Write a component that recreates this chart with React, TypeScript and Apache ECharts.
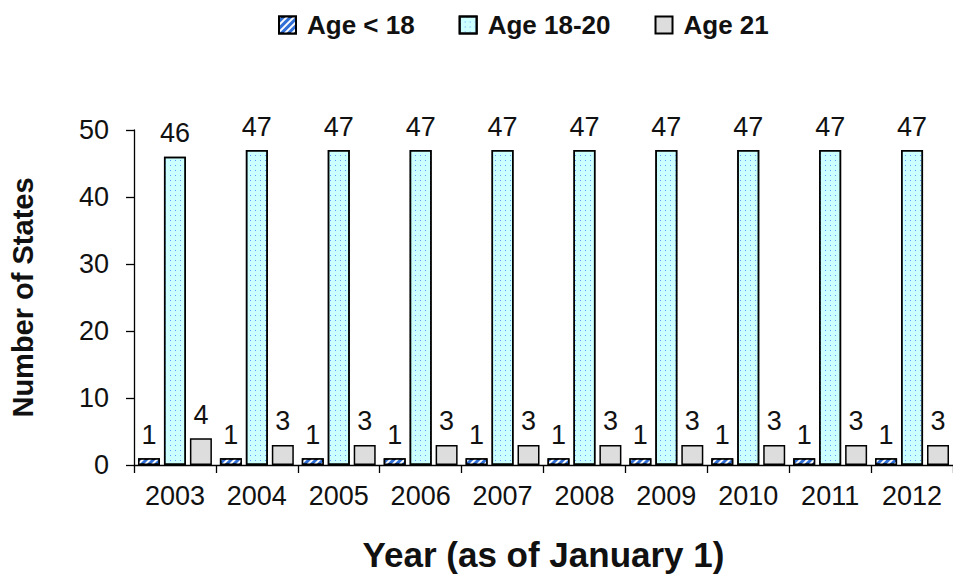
import React, { useEffect, useRef } from "react";
import * as echarts from "echarts";

const years = ["2003", "2004", "2005", "2006", "2007", "2008", "2009", "2010", "2011", "2012"];
const under18 = [1, 1, 1, 1, 1, 1, 1, 1, 1, 1];
const age1820 = [46, 47, 47, 47, 47, 47, 47, 47, 47, 47];
const age21 = [4, 3, 3, 3, 3, 3, 3, 3, 3, 3];
const seriesNames = ["Age < 18", "Age 18-20", "Age 21"];

const FONT = "Arial, 'Liberation Sans', sans-serif";

export default function App() {
  const ref = useRef<HTMLDivElement>(null);
  useEffect(() => {
    if (!ref.current) return;
    const chart = echarts.init(ref.current, null, { renderer: "svg" });
    const label = {
      show: true,
      position: "top" as const,
      distance: 10,
      color: "#111",
      fontSize: 27,
      fontFamily: FONT,
    };
    const border = { borderColor: "#000", borderWidth: 1.5 };
    chart.setOption({
      animation: false,
      backgroundColor: "#fff",
      textStyle: { fontFamily: FONT },
      legend: {
        top: 7,
        left: 273,
        icon: "rect",
        itemWidth: 17,
        itemHeight: 17,
        itemGap: 44,
        data: seriesNames,
        textStyle: { fontSize: 26, fontWeight: "bold", color: "#111", fontFamily: FONT, padding: [0, 0, 0, 6] },
      },
      grid: { left: 134, right: -9, top: 130, bottom: 113, containLabel: false },
      xAxis: {
        type: "category",
        data: years,
        name: "Year (as of January 1)",
        nameLocation: "middle",
        nameGap: 72,
        nameTextStyle: { fontSize: 35, fontWeight: "bold", color: "#111", fontFamily: FONT },
        axisLine: { lineStyle: { color: "#000", width: 1.3 } },
        axisTick: { show: true, length: 8, lineStyle: { color: "#000", width: 1.3 } },
        axisLabel: { fontSize: 27, color: "#111", margin: 17, fontFamily: FONT },
      },
      yAxis: {
        type: "value",
        min: 0,
        max: 50,
        interval: 10,
        name: "Number of States",
        nameLocation: "middle",
        nameGap: 97,
        nameTextStyle: { fontSize: 29, fontWeight: "bold", color: "#111", fontFamily: FONT },
        axisLine: { show: true, lineStyle: { color: "#000", width: 1.3 } },
        axisTick: { show: true, length: 8, lineStyle: { color: "#000", width: 1.3 } },
        axisLabel: { fontSize: 27, color: "#111", margin: 25, fontFamily: FONT },
        splitLine: { show: false },
      },
      series: [
        {
          name: seriesNames[0],
          type: "bar",
          data: under18,
          barWidth: 22,
          barGap: "18%",
          label,
          itemStyle: {
            color: "#2f6fd6",
            ...border,
            decal: {
              symbol: "rect",
              color: "#ffffff",
              dashArrayX: [1, 0],
              dashArrayY: [2, 3],
              rotation: -Math.PI / 4,
              symbolSize: 1,
            },
          },
        },
        {
          name: seriesNames[1],
          type: "bar",
          data: age1820,
          barWidth: 22,
          barGap: "18%",
          label,
          itemStyle: {
            color: "#ccffff",
            ...border,
            decal: {
              symbol: "rect",
              color: "#5c9cff",
              dashArrayX: [1, 4],
              dashArrayY: [1, 4],
              symbolSize: 1,
              rotation: 0,
            },
          },
        },
        {
          name: seriesNames[2],
          type: "bar",
          data: age21,
          barWidth: 22,
          barGap: "18%",
          label,
          itemStyle: { color: "#dddddd", ...border },
        },
      ],
    });
    return () => chart.dispose();
  }, []);
  return (
    <div style={{ position: "absolute", left: 0, top: 0, width: 953, height: 578, overflow: "hidden" }}>
      <div ref={ref} style={{ width: 953, height: 578 }} />
    </div>
  );
}
